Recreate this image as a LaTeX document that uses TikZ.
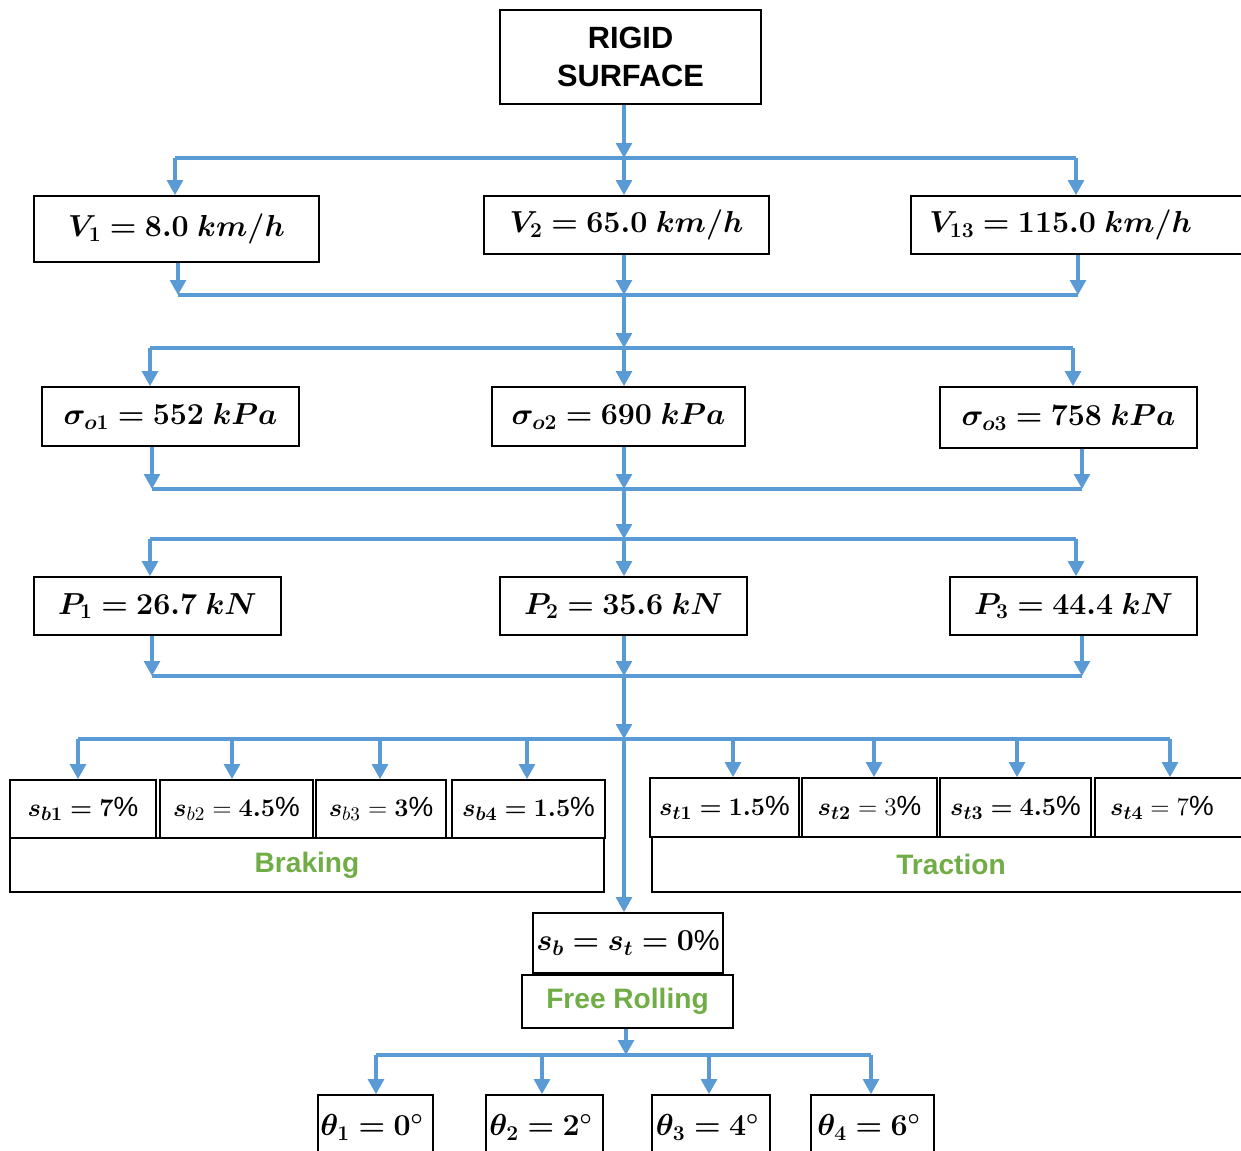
\documentclass[tikz,border=0pt]{standalone}
\usepackage{amsmath}
\usepackage{bm}
\usepackage{fontspec}
\setmainfont{Liberation Sans}
\usetikzlibrary{arrows.meta}

\definecolor{flowblue}{HTML}{5B9BD5}
\definecolor{labelgreen}{HTML}{70AD47}
\tikzset{
  box/.style 2 args={draw=black,line width=1pt,inner sep=0pt,align=center,
    minimum width=#1*0.02cm,minimum height=#2*0.02cm,
    font=\fontsize{16.5}{19}\selectfont},
  slipbox/.style 2 args={box={#1}{#2},font=\fontsize{15.8}{18}\selectfont},
  flow/.style={draw=flowblue,line width=1.8pt,-{Triangle[width=9pt,length=8.5pt]}},
  bus/.style={draw=flowblue,line width=1.8pt},
  grouplabel/.style={text=labelgreen,font=\fontsize{16}{19}\selectfont\bfseries}
}

\begin{document}
\begin{tikzpicture}[x=0.02cm,y=-0.02cm]
      \useasboundingbox (0,0) rectangle (1241,1151);
      % surface
      \node[box={261}{94},font=\fontsize{17.5}{20}\selectfont\bfseries] (rigid) at (630.5,57) {RIGID\\[2pt]SURFACE};
      % speeds
      \node[box={285}{66}] (v1) at (176.5,229) {$\bm{V_1 = 8.0\;km/h}$};
      \node[box={285}{58}] (v2) at (626.5,225) {$\bm{V_2 = 65.0\;km/h}$};
      \node[box={338}{58}] (v3) at (1080,225) {\hspace*{-22pt}$\bm{V_{13} = 115.0\;km/h}$};
      % inflation pressures
      \node[box={257}{59}] (s1) at (170.5,416.5) {$\bm{\sigma_{o1} = 552\;kPa}$};
      \node[box={253}{59}] (s2) at (618.5,416.5) {$\bm{\sigma_{o2} = 690\;kPa}$};
      \node[box={257}{61}] (s3) at (1068.5,417.5) {$\bm{\sigma_{o3} = 758\;kPa}$};
      % loads
      \node[box={247}{58}] (p1) at (157.5,606) {$\bm{P_1 = 26.7\;kN}$};
      \node[box={247}{58}] (p2) at (623.5,606) {$\bm{P_2 = 35.6\;kN}$};
      \node[box={247}{58}] (p3) at (1073.5,606) {$\bm{P_3 = 44.4\;kN}$};
      % braking slips
      \node[slipbox={146}{58}] (sb1) at (83,809) {$\bm{s_{b1} = 7\%}$};
      \node[slipbox={153}{58}] (sb2) at (236.5,809) {$\bm{s}_{b2} = \bm{4.5}\%$};
      \node[slipbox={130}{58}] (sb3) at (381,809) {$\bm{s}_{b3} = \bm{3}\%$};
      \node[slipbox={153}{58}] (sb4) at (528.5,809) {$\bm{s_{b4} = 1.5}\%$};
      \node[box={594}{54},grouplabel] (brake) at (307,865) {Braking};
      % traction slips
      \node[slipbox={149}{59}] (st1) at (724.5,807.5) {$\bm{s_{t1} = 1.5}\%$};
      \node[slipbox={135}{59}] (st2) at (869.5,807.5) {$\bm{s_{t2}} = 3\%$};
      \node[slipbox={151}{59}] (st3) at (1015.5,807.5) {$\bm{s_{t3} = 4.5\%}$};
      \node[slipbox={155}{59}] (st4) at (1172.5,807.5) {\hspace*{-12pt}$\bm{s_{t4}} = 7\%$};
      \node[box={598}{55},grouplabel] (trac) at (951,864.5) {Traction};
      % free rolling
      \node[box={190}{60}] (s0) at (628,943) {$\bm{s_b = s_t = 0\%}$};
      \node[box={211}{53},grouplabel] (free) at (627.5,1001.5) {Free Rolling};
      % slip angles
      \node[box={115}{65}] (th1) at (375.5,1127.5) {\hspace*{-4pt}$\bm{\theta_1 = 0^\circ}$};
      \node[box={117}{65}] (th2) at (544.5,1127.5) {\hspace*{-4pt}$\bm{\theta_2 = 2^\circ}$};
      \node[box={118}{65}] (th3) at (711,1127.5) {\hspace*{-4pt}$\bm{\theta_3 = 4^\circ}$};
      \node[box={123}{65}] (th4) at (872.5,1127.5) {\hspace*{-4pt}$\bm{\theta_4 = 6^\circ}$};
      % split and merge points
      \coordinate (b1) at (624,158);
      \coordinate (m1) at (624,295);
      \coordinate (b2) at (624,348);
      \coordinate (m2) at (624,489);
      \coordinate (b3) at (624,539);
      \coordinate (m3) at (624,676);
      \coordinate (b4) at (624,739);
      \coordinate (b5) at (626,1055);
      % surface -> speeds
      \draw[flow] (rigid.south -| b1) -- (b1);
      \draw[bus] (175,158) -- (1076,158);
      \foreach \x/\n in {175/v1,624/v2,1076/v3}
        \draw[flow] (\x,158) -- (\x,158 |- \n.north);
      % speeds -> pressures
      \draw[bus] (178,295) -- (1078,295);
      \foreach \x/\n in {178/v1,624/v2,1078/v3}
        \draw[flow] (\x,0 |- \n.south) -- (\x,295);
      \draw[flow] (m1) -- (b2);
      \draw[bus] (150,348) -- (1073,348);
      \foreach \x/\n in {150/s1,624/s2,1073/s3}
        \draw[flow] (\x,348) -- (\x,348 |- \n.north);
      % pressures -> loads
      \draw[bus] (152,489) -- (1082,489);
      \foreach \x/\n in {152/s1,624/s2,1082/s3}
        \draw[flow] (\x,0 |- \n.south) -- (\x,489);
      \draw[flow] (m2) -- (b3);
      \draw[bus] (150,539) -- (1076,539);
      \foreach \x/\n in {150/p1,624/p2,1076/p3}
        \draw[flow] (\x,539) -- (\x,539 |- \n.north);
      % loads -> slips
      \draw[bus] (152,676) -- (1082,676);
      \foreach \x/\n in {152/p1,624/p2,1082/p3}
        \draw[flow] (\x,0 |- \n.south) -- (\x,676);
      \draw[flow] (m3) -- (b4);
      \draw[bus] (78,739) -- (1170,739);
      \foreach \x/\n in {78/sb1,232/sb2,380/sb3,527/sb4,733/st1,874/st2,1017/st3,1170/st4}
        \draw[flow] (\x,739) -- (\x,739 |- \n.north);
      \draw[flow] (b4) -- (b4 |- s0.north);
      % free rolling -> slip angles
      \draw[flow] (free.south -| b5) -- (b5);
      \draw[bus] (376,1055) -- (871,1055);
      \foreach \x/\n in {376/th1,542/th2,709/th3,871/th4}
        \draw[flow] (\x,1055) -- (\x,1055 |- \n.north);
\end{tikzpicture}
\end{document}
